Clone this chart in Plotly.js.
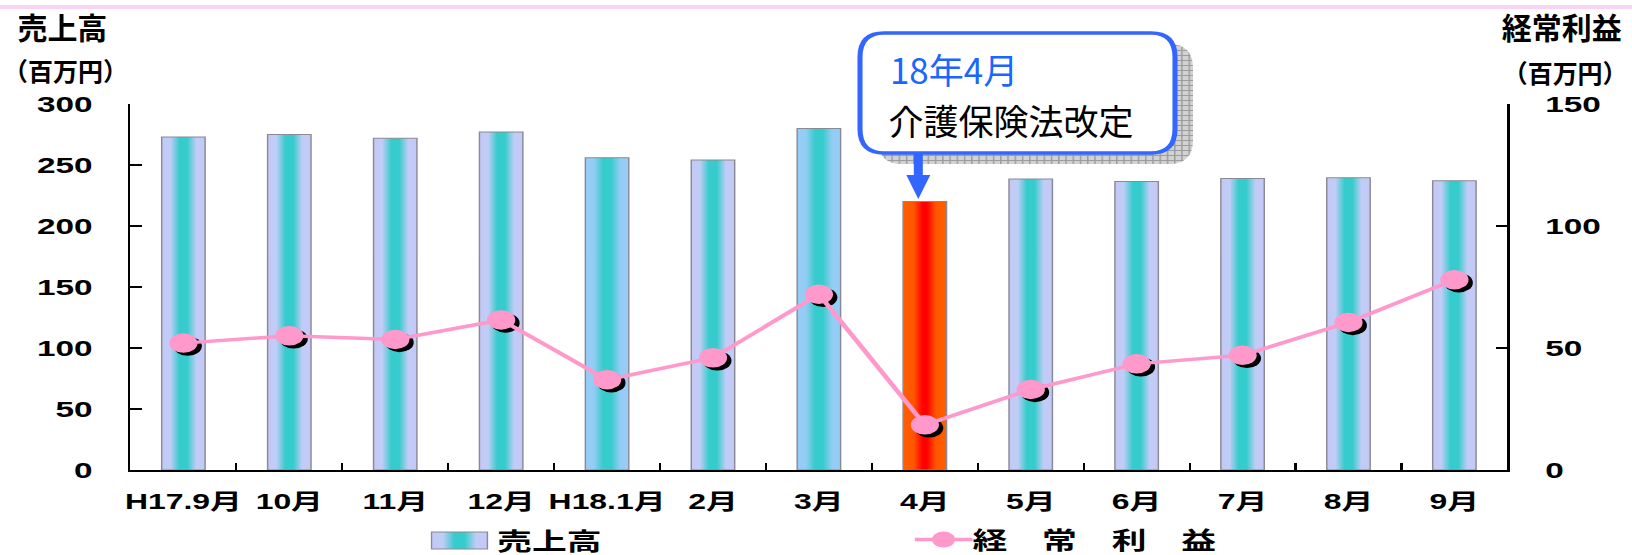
<!DOCTYPE html>
<html><head><meta charset="utf-8">
<script src="https://cdn.plot.ly/plotly-3.0.1.min.js"></script>
<style>
html,body{margin:0;padding:0;background:#fff;overflow:hidden;width:1632px;height:555px;}
#wrap{position:absolute;left:0;top:0;width:1126px;height:555px;transform:scaleX(1.449378);transform-origin:0 0;}
</style></head><body>
<svg width="0" height="0" style="position:absolute;left:0;top:0">
<defs>
<linearGradient id="gLav" x1="0" y1="0" x2="1" y2="0">
<stop offset="0" stop-color="#c4c8f8"/><stop offset="0.2" stop-color="#c0cdf6"/>
<stop offset="0.41" stop-color="#36cbcc"/><stop offset="0.59" stop-color="#36cbcc"/>
<stop offset="0.8" stop-color="#c0cdf6"/><stop offset="1" stop-color="#c4c8f8"/>
</linearGradient>
<linearGradient id="gBlue" x1="0" y1="0" x2="1" y2="0">
<stop offset="0" stop-color="#98ccf8"/><stop offset="0.2" stop-color="#92cdf4"/>
<stop offset="0.41" stop-color="#36cbcc"/><stop offset="0.59" stop-color="#36cbcc"/>
<stop offset="0.8" stop-color="#92cdf4"/><stop offset="1" stop-color="#98ccf8"/>
</linearGradient>
<linearGradient id="gRed" x1="0" y1="0" x2="1" y2="0">
<stop offset="0" stop-color="#ff6000"/><stop offset="0.25" stop-color="#ff5500"/>
<stop offset="0.45" stop-color="#ff0000"/><stop offset="0.55" stop-color="#ff0000"/>
<stop offset="0.75" stop-color="#ff5500"/><stop offset="1" stop-color="#ff6000"/>
</linearGradient>
<pattern id="gridPat" patternUnits="userSpaceOnUse" width="5" height="5">
<rect width="5" height="5" fill="#d2d2d2"/><path d="M0,0.5H5M0.5,0V5" stroke="#9c9c9c" stroke-width="1"/>
</pattern>
</defs></svg>
<div id="wrap"><div id="chart"></div></div>
<script>
// ---- data ----
const categories = ['H17.9月','10月','11月','12月','H18.1月','2月','3月','4月','5月','6月','7月','8月','9月'];
const sales  = [273, 275, 272, 277, 256, 254, 280, 220, 238.5, 236.5, 239, 239.5, 237];
const profit = [52, 55, 53.5, 61.5, 37, 46, 72, 18.5, 33, 43.5, 47, 60.5, 78];
const yTicks  = [0, 50, 100, 150, 200, 250, 300];
const y2Ticks = [0, 50, 100, 150];
const salesName  = '売上高';
const profitName = '経　常　利　益';
const leftTitle  = '売上高';
const rightTitle = '経常利益';
const unitText   = '（百万円）';
const noteLine1  = '18年4月';
const noteLine2  = '介護保険法改定';
const noteIndex  = 7;

// ---- styles ----
const barKind = ['lav','lav','lav','lav','blue','lav','blue','red','lav','lav','lav','lav','lav'];
const kindGrad = {lav:'gLav', blue:'gBlue', red:'gRed'};
const kindFlat = {lav:'#7fcfe0', blue:'#6fcfe8', red:'#ff3300'};

const S = 1632/1126;
const W = 1126, H = 555, ML = 90, MR = 86, MT = 104, MB = 85;
const PW = W - ML - MR, PH = H - MT - MB;
const px = xr => (xr / S - ML) / PW;          // real page x -> paper
const py = y => (H - MB - y) / PH;             // page y -> paper
const LAT = 'Liberation Sans, Noto Sans CJK JP, sans-serif';
const CJK = 'Noto Sans CJK JP, sans-serif';

function rrect(x0, y0, x1, y1, r) {
  const P = (x, y) => px(x).toFixed(5) + ',' + py(y).toFixed(5);
  return 'M' + P(x0 + r, y0) + 'L' + P(x1 - r, y0) + 'Q' + P(x1, y0) + ' ' + P(x1, y0 + r) +
    'L' + P(x1, y1 - r) + 'Q' + P(x1, y1) + ' ' + P(x1 - r, y1) +
    'L' + P(x0 + r, y1) + 'Q' + P(x0, y1) + ' ' + P(x0, y1 - r) +
    'L' + P(x0, y0 + r) + 'Q' + P(x0, y0) + ' ' + P(x0 + r, y0) + 'Z';
}

// callout geometry (page px)
const boxX0 = 860, boxX1 = 1175, boxY0 = 33, boxY1 = 153;
const catCenterReal = ((noteIndex + 0.5) / categories.length * PW + ML) * S;
const arrowX = catCenterReal - 6.5;
const tipYp = sales[noteIndex] / 300 + 2.5 / PH;   // paper
const headYp = tipYp + 24 / PH;
const topYp = py(boxY1 - 4);
const ax = d => px(arrowX + d).toFixed(5);
const arrowPath = 'M' + ax(-4.5) + ',' + topYp + 'L' + ax(4.5) + ',' + topYp + 'L' + ax(4.5) + ',' + headYp +
  'L' + ax(12) + ',' + headYp + 'L' + ax(0) + ',' + tipYp + 'L' + ax(-12) + ',' + headYp +
  'L' + ax(-4.5) + ',' + headYp + 'Z';

const data = [
  {type:'bar', x:categories, y:sales, name:salesName, legend:'legend',
   marker:{color:barKind.map(k => kindFlat[k]), line:{color:'#8a8a94', width:1}}, hoverinfo:'skip'},
  {type:'scatter', mode:'markers', x:categories, y:profit, yaxis:'y2', showlegend:false,
   marker:{color:'#000', size:19.5}, hoverinfo:'skip', cliponaxis:false},
  {type:'scatter', mode:'lines+markers', x:categories, y:profit, yaxis:'y2', name:profitName, legend:'legend2',
   line:{color:'#ff99cc', width:3.5}, marker:{color:'#ff99cc', size:19.5}, hoverinfo:'skip', cliponaxis:false}
];

const tickFontY = {family:LAT, size:23, weight:'bold', color:'#000'};
const layout = {
  width:W, height:H, margin:{l:ML, r:MR, t:MT, b:MB, pad:0, autoexpand:false},
  paper_bgcolor:'#fff', plot_bgcolor:'rgba(0,0,0,0)',
  font:{family:LAT, color:'#000'},
  bargap:0.59, showlegend:true,
  xaxis:{type:'category', range:[-0.5, categories.length - 0.5], tickson:'boundaries', ticks:'inside',
    ticklen:7, tickwidth:1.5, tickcolor:'#000', showline:true, linecolor:'#000', linewidth:2,
    showgrid:false, zeroline:false, tickangle:0, automargin:false,
    tickfont:{family:LAT, size:22, weight:'bold', color:'#000'}, ticklabelstandoff:11},
  yaxis:{range:[0,300], tickvals:yTicks, ticktext:yTicks.map(String), ticks:'inside', ticklen:8, tickwidth:1.5,
    tickcolor:'#000', showline:true, linecolor:'#000', linewidth:1.5, showgrid:false, zeroline:false,
    automargin:false, tickfont:tickFontY, ticklabelstandoff:20},
  yaxis2:{range:[0,150], tickvals:y2Ticks, ticktext:y2Ticks.map(String), overlaying:'y', side:'right',
    ticks:'inside', ticklen:8, tickwidth:1.5, tickcolor:'#000', showline:true, linecolor:'#000', linewidth:1.5,
    showgrid:false, zeroline:false, automargin:false, tickfont:tickFontY, ticklabelstandoff:20},
  legend:{x:(297 - ML) / PW, xanchor:'left', y:py(541), yanchor:'middle', bgcolor:'rgba(0,0,0,0)',
    font:{family:LAT, size:24, weight:'bold', color:'#000'}},
  legend2:{x:(631 - ML) / PW, xanchor:'left', y:py(540), yanchor:'middle', bgcolor:'rgba(0,0,0,0)',
    font:{family:LAT, size:24, weight:'bold', color:'#000'}},
  shapes:[
    {type:'line', xref:'paper', yref:'paper', x0:-0.2, x1:1.2, y0:py(7), y1:py(7), line:{color:'#f9d3f3', width:4}},
    {type:'path', xref:'paper', yref:'paper', path:rrect(boxX0 + 18, boxY0 + 11, boxX1 + 18, boxY1 + 11, 24),
      fillcolor:'#c4c4c4', line:{width:0}},
    {type:'path', xref:'paper', yref:'paper', path:arrowPath, fillcolor:'#3366ff', line:{width:0}},
    {type:'path', xref:'paper', yref:'paper', path:rrect(boxX0, boxY0, boxX1, boxY1, 24),
      fillcolor:'#ffffff', line:{color:'#3366ff', width:3.5}}
  ],
  annotations:[
    {text:leftTitle, xref:'paper', yref:'paper', x:px(15), xanchor:'left', y:py(1.5), yanchor:'top',
      showarrow:false, font:{family:CJK, size:30, weight:'bold', color:'#000'}},
    {text:unitText, xref:'paper', yref:'paper', x:px(0.5), xanchor:'left', y:py(70), yanchor:'middle',
      showarrow:false, font:{family:CJK, size:25, weight:'bold', color:'#000'}},
    {text:rightTitle, xref:'paper', yref:'paper', x:px(1625), xanchor:'right', y:py(1.5), yanchor:'top',
      showarrow:false, font:{family:CJK, size:30, weight:'bold', color:'#000'}},
    {text:unitText, xref:'paper', yref:'paper', x:px(1630), xanchor:'right', y:py(72), yanchor:'middle',
      showarrow:false, font:{family:CJK, size:25, weight:'bold', color:'#000'}},
    {text:noteLine1, xref:'paper', yref:'paper', x:px(887), xanchor:'left', y:py(68.5), yanchor:'middle',
      showarrow:false, font:{family:CJK, size:35, color:'#1a66ff'}},
    {text:noteLine2, xref:'paper', yref:'paper', x:px(885), xanchor:'left', y:py(119.5), yanchor:'middle',
      showarrow:false, font:{family:CJK, size:35, color:'#000'}}
  ]
};

Plotly.newPlot('chart', data, layout, {staticPlot:true, displayModeBar:false}).then(gd => {
  gd.querySelectorAll('.barlayer .point path').forEach((p, i) => {
    const k = barKind[i]; if (k) p.style.fill = 'url(#' + kindGrad[k] + ')';
  });
  const lg = gd.querySelector('g.legend');
  if (lg) {
    lg.querySelectorAll('.legendpoints path').forEach(p => {
      p.setAttribute('d', 'M19.3,8.5H-19.3V-8.5H19.3Z'); p.style.fill = 'url(#gLav)';
      p.style.stroke = '#8a8a94'; p.style.strokeWidth = '1px';
    });
    lg.querySelectorAll('text.legendtext').forEach(t => t.setAttribute('x', 46));
  }
  const lg2 = gd.querySelector('g.legend2');
  if (lg2) {
    lg2.querySelectorAll('.legendlines path').forEach(p => p.setAttribute('d', 'M0,0h40'));
    lg2.querySelectorAll('text.legendtext').forEach(t => t.setAttribute('x', 43));
  }
  const sc = gd.querySelectorAll('.scatterlayer .trace');
  if (sc.length) { const pts = sc[0].querySelector('.points'); if (pts) pts.setAttribute('transform', 'translate(3,3)'); }
  gd.querySelectorAll('.shapelayer path').forEach(p => {
    if (p.getAttribute('data-index') === '1') p.style.fill = 'url(#gridPat)';
  });
  gd.querySelectorAll('g.annotation').forEach(g => {
    const i = +g.getAttribute('data-index');
    const a = layout.annotations[i]; const t = g.querySelector('text');
    if (!a || !t) return;
    t.style.transformBox = 'fill-box';
    t.style.transformOrigin = (a.xanchor === 'right' ? 'right' : 'left') + ' center';
    t.style.transform = 'scaleX(' + (1 / S) + ')';
  });
});
</script>
</body></html>
